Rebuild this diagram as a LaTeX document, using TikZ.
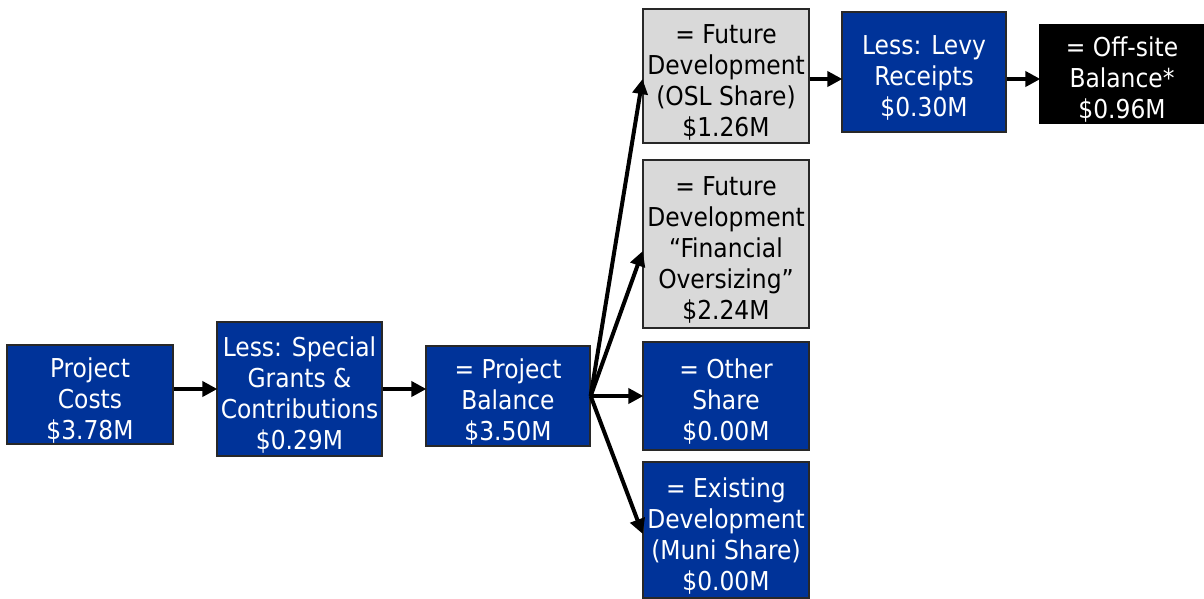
\documentclass[tikz,border=0pt]{standalone}
\usepackage{fontspec}
\setmainfont{DejaVu Sans Condensed}
\usetikzlibrary{arrows.meta}
\definecolor{boxblue}{RGB}{0,51,153}
\definecolor{boxgray}{RGB}{217,217,217}
\definecolor{edgegray}{RGB}{40,40,40}
\newcommand\toppad{\rule{0pt}{31pt}}
\begin{document}
\begin{tikzpicture}[x=1pt,y=-1pt,
  basebox/.style={draw=edgegray, line width=1.3pt, align=center, inner sep=0pt,
    font=\fontsize{26}{31}\selectfont},
  bluebox/.style={basebox, fill=boxblue, text=white},
  graybox/.style={basebox, fill=boxgray, text=black},
  blackbox/.style={basebox, fill=black, draw=black, text=white},
  arr/.style={line width=4pt, -{Triangle[length=15pt,width=15pt]}, shorten >=-1pt}]
\useasboundingbox (0,0) rectangle (1204,598);
\node[bluebox, minimum width=166pt, minimum height=99pt] (costs) at (90,394.5) {\toppad Project\\Costs\\\$3.78M};
\node[bluebox, minimum width=165pt, minimum height=134pt] (less) at (299.5,389) {\toppad Less: Special\\Grants \&\\Contributions\\\$0.29M};
\node[bluebox, minimum width=164pt, minimum height=100pt] (bal) at (508,396) {\toppad = Project\\Balance\\\$3.50M};
\node[graybox, minimum width=166pt, minimum height=134pt] (osl) at (726,76) {\toppad = Future\\Development\\(OSL Share)\\\$1.26M};
\node[graybox, minimum width=166pt, minimum height=168pt] (fin) at (726,244) {\toppad = Future\\Development\\“Financial\\Oversizing”\\\$2.24M};
\node[bluebox, minimum width=166pt, minimum height=108pt] (other) at (726,396) {\toppad = Other\\Share\\\$0.00M};
\node[bluebox, minimum width=166pt, minimum height=136pt] (exist) at (726,530) {\toppad = Existing\\Development\\(Muni Share)\\\$0.00M};
\node[bluebox, minimum width=164pt, minimum height=120pt] (levy) at (924,72) {\toppad Less: Levy\\Receipts\\\$0.30M};
\node[blackbox, minimum width=164pt, minimum height=98pt] (off) at (1122,74) {\toppad = Off-site\\Balance*\\\$0.96M};
\coordinate (fan) at (bal.east);
\draw[arr] (costs.east |- less.west) -- (less.west);
\draw[arr] (less.east) -- (less.east -| bal.west);
\draw[arr] (fan) -- (other.west);
\draw[arr] (fan) -- ([yshift=-4pt]osl.west);
\draw[arr] (fan) -- ([yshift=-8pt]fin.west);
\draw[arr] (fan) -- ([yshift=-3pt]exist.west);
\draw[arr] ([yshift=-3pt]osl.east) -- ([yshift=-3pt]osl.east -| levy.west);
\draw[arr] ([yshift=-3pt]osl.east -| levy.east) -- ([yshift=-3pt]osl.east -| off.west);
\end{tikzpicture}
\end{document}
